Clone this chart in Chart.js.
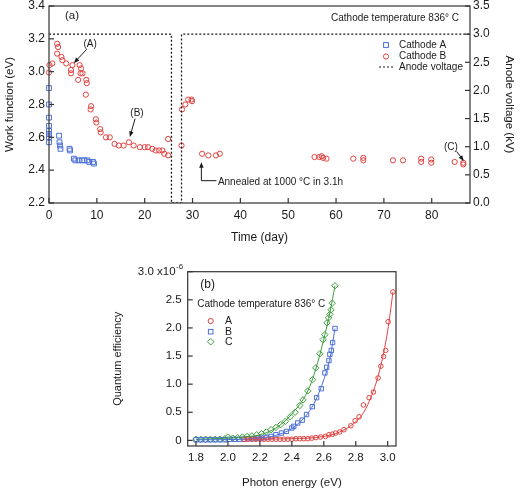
<!DOCTYPE html>
<html lang="en">
<head>
  <meta charset="UTF-8">
  <title>Work function and quantum efficiency</title>
  <script src="https://cdn.jsdelivr.net/npm/chart.js"></script>
  <style>
    body { margin: 0; background: #fff; }
    #wrap { position: relative; width: 520px; height: 490px; background: #fff; }
    canvas { position: absolute; }
  </style>
</head>
<body>
  <div id="wrap">
    <canvas id="timeChart" width="520" height="262" style="left:0;top:0"></canvas>
    <canvas id="qeChart" width="310" height="228" style="left:100px;top:262px"></canvas>
  </div>
  <script>
    // (a) work function vs time
    const dayA = [0, 0, 0, 0, 0, 0, 0, 0, 2.1, 2.2, 2.3, 2.4, 4.3, 4.4, 5.2, 5.5, 6.2, 6.9, 7.4, 8.0, 8.4, 9.2, 9.4];
    const wfA = [2.90, 2.80, 2.72, 2.67, 2.64, 2.62, 2.60, 2.57, 2.61, 2.57, 2.55, 2.53, 2.53, 2.52, 2.47, 2.46, 2.46, 2.46, 2.46, 2.46, 2.45, 2.45, 2.44];

    const dayB = [0, 0.1, 0.7, 1.7, 1.9, 1.7, 2.6, 2.8, 3.6, 4.6, 4.6, 4.9, 6.1, 6.4, 6.7, 6.6, 7.0, 7.8, 7.9, 7.7,
      8.8, 8.7, 9.8, 9.9, 10.7, 10.8, 11.9, 12.7, 13.7, 14.6, 15.6, 16.7, 17.7, 19.0, 20.0, 20.7, 21.6, 22.3, 23.0, 23.7,
      24.1, 24.9, 24.9, 27.7, 27.8, 28.5, 29.1, 29.8, 29.9, 32.0, 33.3, 34.9, 35.7,
      55.5, 56.5, 57.0, 57.3, 58.0, 63.6, 65.7, 65.7, 71.9, 74.0, 77.8, 77.8, 79.9, 79.9, 84.8, 86.6, 86.6];
    const wfB = [2.995, 3.04, 3.05, 3.17, 3.15, 3.11, 3.09, 3.07, 3.05, 3.01, 2.99, 3.04, 2.95, 3.04, 3.02, 2.99, 2.99, 2.95, 2.93, 2.86,
      2.79, 2.77, 2.71, 2.69, 2.65, 2.63, 2.60, 2.60, 2.56, 2.55, 2.55, 2.57, 2.55, 2.54, 2.54, 2.54, 2.53, 2.52, 2.52, 2.52,
      2.50, 2.49, 2.59, 2.55, 2.77, 2.80, 2.83, 2.83, 2.82, 2.50, 2.49, 2.49, 2.50,
      2.48, 2.48, 2.485, 2.475, 2.47, 2.47, 2.475, 2.46, 2.46, 2.46, 2.47, 2.45, 2.465, 2.445, 2.45, 2.435, 2.445];

    const anodeDay = [0, 25.6, 25.6, 27.7, 27.7, 88];
    const anodeKV = [3.0, 3.0, 0, 0, 3.0, 3.0];

    const timeTicks = [0, 10, 20, 30, 40, 50, 60, 70, 80];
    const wfTicks = [2.2, 2.4, 2.6, 2.8, 3.0, 3.2, 3.4];
    const kvTicks = [0, 0.5, 1.0, 1.5, 2.0, 2.5, 3.0, 3.5];

    // (b) quantum efficiency (x1e-6) vs photon energy
    const eA = [2.10, 2.125, 2.15, 2.175, 2.20, 2.225, 2.25, 2.275, 2.30, 2.325, 2.35, 2.375, 2.40, 2.425, 2.45, 2.475, 2.50, 2.525, 2.55,
      2.58, 2.61, 2.632, 2.653, 2.674, 2.70, 2.726, 2.769, 2.796, 2.821, 2.848, 2.884, 2.911, 2.94, 2.957, 2.974, 2.987, 3.003, 3.033];
    const qeA = [0.02, 0.02, 0.02, 0.02, 0.02, 0.02, 0.02, 0.02, 0.02, 0.02, 0.02, 0.02, 0.02, 0.03, 0.03, 0.03, 0.03, 0.04, 0.05,
      0.06, 0.07, 0.10, 0.11, 0.13, 0.15, 0.19, 0.26, 0.35, 0.42, 0.63, 0.76, 0.86, 1.11, 1.32, 1.49, 1.60, 2.11, 2.64];

    const eB = [1.80, 1.83, 1.86, 1.89, 1.92, 1.95, 1.98, 2.01, 2.04, 2.07, 2.10, 2.13, 2.16, 2.19, 2.21, 2.24, 2.27, 2.30,
      2.335, 2.366, 2.40, 2.412, 2.437, 2.465, 2.492, 2.528, 2.555, 2.584, 2.607, 2.618, 2.632, 2.638, 2.647, 2.655, 2.670];
    const qeB = [0.01, 0.01, 0.01, 0.01, 0.01, 0.01, 0.01, 0.02, 0.02, 0.02, 0.02, 0.03, 0.03, 0.04, 0.04, 0.05, 0.07, 0.10,
      0.13, 0.16, 0.22, 0.25, 0.31, 0.36, 0.46, 0.60, 0.76, 0.92, 1.20, 1.30, 1.42, 1.53, 1.60, 1.74, 1.99];

    const eC = [1.80, 1.83, 1.86, 1.89, 1.92, 1.95, 1.98, 2.00, 2.03, 2.06, 2.09, 2.12, 2.15, 2.18, 2.21, 2.24, 2.27, 2.30,
      2.33, 2.36, 2.39, 2.42, 2.45, 2.47, 2.50, 2.53, 2.55, 2.575, 2.595, 2.607, 2.62, 2.63, 2.638, 2.645, 2.653, 2.67];
    const qeC = [0.02, 0.02, 0.02, 0.02, 0.02, 0.02, 0.03, 0.06, 0.04, 0.05, 0.06, 0.07, 0.08, 0.10, 0.12, 0.15, 0.19, 0.23,
      0.28, 0.34, 0.42, 0.50, 0.62, 0.72, 0.88, 1.08, 1.29, 1.54, 1.79, 1.88, 2.09, 2.18, 2.24, 2.32, 2.44, 2.75];

    // fitted curves
    const fitEA = [2.10, 2.40, 2.60, 2.70, 2.80, 2.85, 2.90, 2.95, 3.00, 3.033];
    const fitQA = [0.02, 0.03, 0.07, 0.15, 0.33, 0.50, 0.80, 1.25, 1.95, 2.64];
    const fitEB = [1.80, 2.10, 2.20, 2.30, 2.40, 2.50, 2.55, 2.60, 2.64, 2.67];
    const fitQB = [0.01, 0.02, 0.04, 0.09, 0.21, 0.48, 0.72, 1.08, 1.48, 1.99];
    const fitEC = [1.80, 2.00, 2.10, 2.20, 2.30, 2.40, 2.50, 2.55, 2.60, 2.64, 2.67];
    const fitQC = [0.02, 0.04, 0.06, 0.10, 0.22, 0.47, 0.88, 1.27, 1.80, 2.30, 2.75];

    const energyTicks = [1.8, 2.0, 2.2, 2.4, 2.6, 2.8, 3.0];
    const qeTicks = [0, 0.5, 1.0, 1.5, 2.0, 2.5, 3.0];

    const RED = '#e2413f';
    const BLUE = '#4a70d8';
    const GREEN = '#3c9e3c';
    const INK = '#1a1a1a';
    const FONT = '"Liberation Sans", Arial, sans-serif';

    Chart.defaults.font.family = FONT;
    Chart.defaults.color = INK;

    const pts = (xs, ys) => xs.map((v, i) => ({ x: v, y: ys[i] }));
    const useTicks = list => s => { s.ticks = list.map(v => ({ value: v })); };
    const noGrid = { display: false, drawTicks: false };
    // fixed axis box, no extra room for overhanging labels
    const fixSize = (w, h) => s => {
      if (w) s.width = w;
      if (h) s.height = h;
      s.paddingTop = 0; s.paddingBottom = 0; s.paddingLeft = 0; s.paddingRight = 0;
    };

    // box around the plot area + inward tick marks
    const frame = {
      id: 'frame',
      afterDraw(chart, args, opts) {
        const { ctx, chartArea: a } = chart;
        ctx.save();
        ctx.strokeStyle = '#333';
        ctx.lineWidth = 1.2;
        ctx.strokeRect(a.left, a.top, a.right - a.left, a.bottom - a.top);
        (opts.marks || []).forEach(m => {
          const s = chart.scales[m.id];
          s.ticks.forEach(t => {
            const p = s.getPixelForValue(t.value);
            ctx.beginPath();
            if (m.side === 'bottom') { ctx.moveTo(p, a.bottom); ctx.lineTo(p, a.bottom - m.len); }
            else if (m.side === 'left') { ctx.moveTo(a.left, p); ctx.lineTo(a.left + m.len, p); }
            else { ctx.moveTo(a.right, p); ctx.lineTo(a.right - m.len, p); }
            ctx.stroke();
          });
        });
        ctx.restore();
      }
    };

    function arrow(ctx, x1, y1, x2, y2) {
      const ang = Math.atan2(y2 - y1, x2 - x1);
      const h = 6;
      ctx.beginPath();
      ctx.moveTo(x1, y1);
      ctx.lineTo(x2 - Math.cos(ang) * h * 0.8, y2 - Math.sin(ang) * h * 0.8);
      ctx.stroke();
      ctx.beginPath();
      ctx.moveTo(x2, y2);
      ctx.lineTo(x2 - h * Math.cos(ang - 0.38), y2 - h * Math.sin(ang - 0.38));
      ctx.lineTo(x2 - h * Math.cos(ang + 0.38), y2 - h * Math.sin(ang + 0.38));
      ctx.closePath();
      ctx.fill();
    }

    const notesA = {
      id: 'notesA',
      afterDraw(chart) {
        const { ctx, chartArea: a, scales: { x, y } } = chart;
        const px = d => x.getPixelForValue(d);
        const py = v => y.getPixelForValue(v);
        ctx.save();
        ctx.fillStyle = INK;
        ctx.strokeStyle = INK;
        ctx.lineWidth = 1;
        ctx.textBaseline = 'middle';

        ctx.font = '11.5px ' + FONT;
        ctx.textAlign = 'center';
        ctx.fillText('(a)', a.left + 23, a.top + 10);

        ctx.font = '10px ' + FONT;
        ctx.textAlign = 'right';
        ctx.fillText('Cathode temperature 836° C', a.right - 11, a.top + 12);

        // legend
        ctx.textAlign = 'left';
        const lx = a.right - 84;
        ctx.fillText('Cathode A', a.right - 71, a.top + 39);
        ctx.fillText('Cathode B', a.right - 71, a.top + 50.5);
        ctx.fillText('Anode voltage', a.right - 71, a.top + 61);
        ctx.strokeStyle = BLUE;
        ctx.strokeRect(lx - 2.4, a.top + 39 - 2.4, 4.8, 4.8);
        ctx.strokeStyle = RED;
        ctx.beginPath();
        ctx.arc(lx, a.top + 50.5, 2.6, 0, Math.PI * 2);
        ctx.stroke();
        ctx.strokeStyle = INK;
        ctx.setLineDash([2, 2]);
        ctx.beginPath();
        ctx.moveTo(lx - 7, a.top + 61);
        ctx.lineTo(lx + 7, a.top + 61);
        ctx.stroke();
        ctx.setLineDash([]);

        // point labels
        ctx.textAlign = 'center';
        ctx.fillText('(A)', px(8.6), py(3.168));
        arrow(ctx, px(7.9), py(3.137), px(5.2), py(3.052));
        ctx.fillText('(B)', px(18.4), py(2.748));
        arrow(ctx, px(18.0), py(2.714), px(16.9), py(2.602));
        ctx.fillText('(C)', px(84.0), py(2.541));
        arrow(ctx, px(85.2), py(2.514), px(86.7), py(2.456));

        // annealing note
        arrow(ctx, px(31.85), py(2.336), px(31.85), py(2.448));
        ctx.beginPath();
        ctx.moveTo(px(31.85), py(2.336));
        ctx.lineTo(px(35.0), py(2.336));
        ctx.stroke();
        ctx.textAlign = 'left';
        ctx.fillText('Annealed at 1000 °C in 3.1h', px(35.3), py(2.324));
        ctx.restore();
      }
    };

    const notesB = {
      id: 'notesB',
      afterDraw(chart) {
        const { ctx, chartArea: a, scales: { y } } = chart;
        ctx.save();
        ctx.fillStyle = INK;
        ctx.textBaseline = 'middle';

        // top tick label with exponent
        const ty = y.getPixelForValue(3.0);
        ctx.textAlign = 'right';
        ctx.font = '8px ' + FONT;
        ctx.fillText('-6', a.left - 4.5, ty - 5);
        const w = ctx.measureText('-6').width;
        ctx.font = '11.5px ' + FONT;
        ctx.fillText('3.0 x10', a.left - 5 - w, ty);

        ctx.textAlign = 'center';
        ctx.font = '12px ' + FONT;
        ctx.fillText('(b)', a.left + 20, a.top + 12.5);

        ctx.textAlign = 'left';
        ctx.font = '10px ' + FONT;
        ctx.fillText('Cathode temperature 836° C', a.left + 9.6, a.top + 32.6);
        const mx = a.left + 23;
        const rows = [a.top + 49.3, a.top + 60, a.top + 70];
        ctx.font = '10.5px ' + FONT;
        ctx.fillText('A', a.left + 37.3, rows[0]);
        ctx.fillText('B', a.left + 37.3, rows[1]);
        ctx.fillText('C', a.left + 37.3, rows[2]);
        ctx.lineWidth = 1;
        ctx.strokeStyle = RED;
        ctx.beginPath();
        ctx.arc(mx, rows[0], 2.6, 0, Math.PI * 2);
        ctx.stroke();
        ctx.strokeStyle = BLUE;
        ctx.strokeRect(mx - 2.3, rows[1] - 2.3, 4.6, 4.6);
        ctx.strokeStyle = GREEN;
        ctx.beginPath();
        ctx.moveTo(mx, rows[2] - 3.3);
        ctx.lineTo(mx + 3.3, rows[2]);
        ctx.lineTo(mx, rows[2] + 3.3);
        ctx.lineTo(mx - 3.3, rows[2]);
        ctx.closePath();
        ctx.stroke();
        ctx.restore();
      }
    };

    const clear = 'rgba(0,0,0,0)';

    new Chart(document.getElementById('timeChart'), {
      type: 'scatter',
      data: {
        datasets: [
          {
            label: 'Anode voltage', data: pts(anodeDay, anodeKV), yAxisID: 'y2',
            showLine: true, pointRadius: 0, borderColor: INK, borderWidth: 1.3, borderDash: [2, 2]
          },
          {
            label: 'Cathode A', data: pts(dayA, wfA), yAxisID: 'y', clip: false,
            pointStyle: 'rect', pointRadius: 3.4, pointBorderWidth: 1,
            borderColor: BLUE, backgroundColor: clear
          },
          {
            label: 'Cathode B', data: pts(dayB, wfB), yAxisID: 'y', clip: false,
            pointStyle: 'circle', pointRadius: 2.6, pointBorderWidth: 1,
            borderColor: RED, backgroundColor: clear
          }
        ]
      },
      options: {
        responsive: false,
        animation: false,
        devicePixelRatio: 1,
        events: [],
        layout: { padding: { top: 6, right: 0, bottom: 0, left: 0 } },
        plugins: {
          legend: { display: false },
          tooltip: { enabled: false },
          frame: { marks: [
            { id: 'x', side: 'bottom', len: 5 },
            { id: 'y', side: 'left', len: 5 },
            { id: 'y2', side: 'right', len: 5 }
          ] }
        },
        scales: {
          x: {
            type: 'linear', position: 'bottom', min: 0, max: 88,
            afterBuildTicks: useTicks(timeTicks),
            afterFit: fixSize(0, 59),
            grid: noGrid, border: { display: false },
            ticks: { autoSkip: false, maxRotation: 0, padding: 5, font: { size: 12 }, callback: v => String(v) },
            title: { display: true, text: 'Time (day)', font: { size: 12 }, padding: { top: 0, bottom: 17 } }
          },
          y: {
            type: 'linear', position: 'left', min: 2.2, max: 3.4,
            afterBuildTicks: useTicks(wfTicks),
            afterFit: fixSize(49, 0),
            grid: noGrid, border: { display: false },
            ticks: { autoSkip: false, padding: 4, font: { size: 12, lineHeight: 1 }, callback: v => v.toFixed(1) },
            title: { display: true, text: 'Work function (eV)', font: { size: 11.5 }, padding: { top: 3, bottom: 0 } }
          },
          y2: {
            type: 'linear', position: 'right', min: 0, max: 3.5,
            afterBuildTicks: useTicks(kvTicks),
            afterFit: fixSize(50, 0),
            grid: noGrid, border: { display: false },
            ticks: { autoSkip: false, padding: 3, font: { size: 12, lineHeight: 1 }, callback: v => v.toFixed(1) },
            title: { display: true, text: 'Anode voltage (kV)', font: { size: 11.5 }, padding: { top: 4, bottom: 0 } }
          }
        }
      },
      plugins: [frame, notesA]
    });

    const fitLine = (xs, ys, color) => ({
      data: pts(xs, ys), showLine: true, pointRadius: 0, borderColor: color, borderWidth: 1,
      cubicInterpolationMode: 'monotone', clip: false
    });
    const marks = (label, xs, ys, color, style, r) => ({
      label, data: pts(xs, ys), pointStyle: style, pointRadius: r, pointBorderWidth: 1,
      borderColor: color, backgroundColor: clear, clip: false
    });

    new Chart(document.getElementById('qeChart'), {
      type: 'scatter',
      data: {
        datasets: [
          fitLine(fitEA, fitQA, RED),
          fitLine(fitEB, fitQB, BLUE),
          fitLine(fitEC, fitQC, GREEN),
          marks('A', eA, qeA, RED, 'circle', 2.3),
          marks('B', eB, qeB, BLUE, 'rect', 3.1),
          marks('C', eC, qeC, GREEN, 'rectRot', 3.2)
        ]
      },
      options: {
        responsive: false,
        animation: false,
        devicePixelRatio: 1,
        events: [],
        layout: { padding: { top: 9.7, right: 14, bottom: 0, left: 0 } },
        plugins: {
          legend: { display: false },
          tooltip: { enabled: false },
          frame: { marks: [
            { id: 'x', side: 'bottom', len: 5 },
            { id: 'y', side: 'left', len: 5 }
          ] }
        },
        scales: {
          x: {
            type: 'linear', min: 1.748, max: 3.052,
            afterBuildTicks: useTicks(energyTicks),
            afterFit: fixSize(0, 44),
            grid: noGrid, border: { display: false },
            ticks: { autoSkip: false, maxRotation: 0, padding: 5, font: { size: 11.5 }, callback: v => v.toFixed(1) },
            title: { display: true, text: 'Photon energy (eV)', font: { size: 11.5 }, padding: { top: 0, bottom: 0 } }
          },
          y: {
            type: 'linear', min: -0.1, max: 3.0,
            afterBuildTicks: useTicks(qeTicks),
            afterFit: fixSize(87.7, 0),
            grid: noGrid, border: { display: false },
            ticks: {
              autoSkip: false, padding: 6, font: { size: 11.5, lineHeight: 1 },
              callback: v => (v === 0 ? '0' : (v === 3 ? '' : v.toFixed(1)))
            },
            title: { display: true, text: 'Quantum efficiency', font: { size: 11 }, padding: { top: 11.7, bottom: 0 } }
          }
        }
      },
      plugins: [frame, notesB]
    });
  </script>
</body>
</html>
